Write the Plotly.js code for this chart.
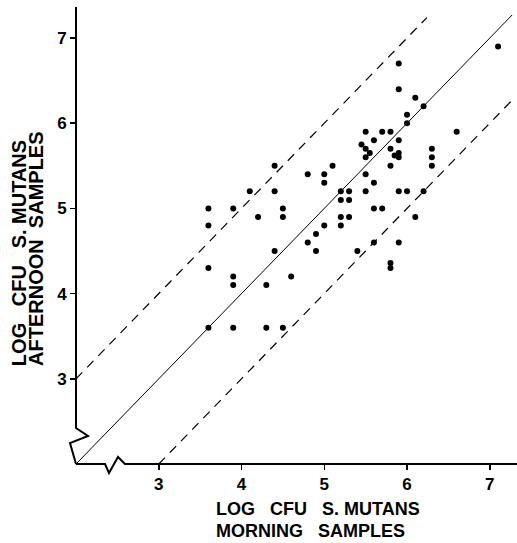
<!DOCTYPE html>
<html>
<head>
<meta charset="utf-8">
<script src="https://cdn.plot.ly/plotly-3.0.1.min.js"></script>
<style>html,body{margin:0;padding:0;background:#fff;}</style>
</head>
<body>
<div id="chart" style="width:517px;height:543px;"></div>
<script>
// Log CFU S. mutans: morning samples (x) vs afternoon samples (y)
const morning = [3.6,3.9,4.1,4.2,3.6,3.6,3.9,3.9,3.6,3.9,
  4.4,4.4,4.5,4.5,4.4,4.3,4.3,4.5,4.6,
  5.9,5.9,6.1,6.2,6.0,6.0,7.1,6.6,5.5,5.7,5.8,5.6,5.9,5.45,5.5,5.8,5.55,5.5,5.85,5.9,5.9,
  6.3,6.3,6.3,5.8,5.1,4.8,5.0,5.0,5.5,5.6,5.2,5.3,5.5,5.9,6.0,6.2,5.2,5.3,5.2,5.3,5.6,5.7,6.1,
  5.0,5.2,4.9,4.8,4.9,5.4,5.6,5.9,5.8,5.8];
const afternoon = [5.0,5.0,5.2,4.9,4.8,4.3,4.2,4.1,3.6,3.6,
  5.5,5.2,5.0,4.9,4.5,4.1,3.6,3.6,4.2,
  6.7,6.4,6.3,6.2,6.1,6.0,6.9,5.9,5.9,5.9,5.9,5.8,5.8,5.75,5.7,5.7,5.65,5.6,5.62,5.65,5.6,
  5.7,5.6,5.5,5.5,5.5,5.4,5.4,5.3,5.4,5.3,5.2,5.2,5.2,5.2,5.2,5.2,5.1,5.1,4.9,4.9,5.0,5.0,4.9,
  4.8,4.8,4.7,4.6,4.5,4.5,4.6,4.6,4.36,4.3];

// Reference lines y = x + offset
const identityX = [2, 7.27];   const identityOffset = 0;
const upperX = [2, 6.24];      const upperOffset = 1;
const lowerX = [3, 7.31];      const lowerOffset = -1;

const tickVals = [3, 4, 5, 6, 7];
const tickLabels = ["3", "4", "5", "6", "7"];
const xTitle = ["LOG\u00a0\u00a0\u00a0CFU\u00a0\u00a0\u00a0S.\u00a0MUTANS", "MORNING\u00a0\u00a0\u00a0SAMPLES"];
const yTitle = ["LOG\u00a0\u00a0\u00a0CFU\u00a0\u00a0\u00a0S.\u00a0MUTANS", "AFTERNOON\u00a0\u00a0SAMPLES"];

const F = "Liberation Sans, Arial, Helvetica, sans-serif";
const addOff = (xs, o) => xs.map(v => v + o);

const traces = [
  {x: identityX, y: addOff(identityX, identityOffset), mode: "lines", type: "scatter",
   line: {color: "#000", width: 1}, hoverinfo: "skip", cliponaxis: false},
  {x: upperX, y: addOff(upperX, upperOffset), mode: "lines", type: "scatter",
   line: {color: "#000", width: 1.2, dash: "9px,7px"}, hoverinfo: "skip", cliponaxis: false},
  {x: lowerX, y: addOff(lowerX, lowerOffset), mode: "lines", type: "scatter",
   line: {color: "#000", width: 1.2, dash: "9px,7px"}, hoverinfo: "skip", cliponaxis: false},
  {x: morning, y: afternoon, mode: "markers", type: "scatter",
   marker: {color: "#000", size: 6}, cliponaxis: false}
];

// axis lines with break marks (paper coordinates)
const yAxisPath = "M 0 1 L 0 0.0788 L 0.0272 0.0613 L -0.0136 0.046 L 0 0";
const xAxisPath = "M 0 0 L 0.0658 0 L 0.0748 -0.0197 L 0.0952 0.0153 L 0.1111 0 L 1 0";

const layout = {
  width: 517, height: 543,
  margin: {l: 76, r: 0, t: 7, b: 79, pad: 0},
  paper_bgcolor: "#fff", plot_bgcolor: "#fff",
  showlegend: false,
  xaxis: {range: [2, 7.329], showline: false, showgrid: false, zeroline: false,
    tickmode: "array", tickvals: tickVals, ticktext: tickLabels,
    ticks: "outside", ticklen: 5, tickwidth: 1.5, tickcolor: "#000",
    tickfont: {family: F, size: 17, color: "#000", weight: "bold"}},
  yaxis: {range: [2, 7.364], showline: false, showgrid: false, zeroline: false,
    tickmode: "array", tickvals: tickVals, ticktext: tickLabels,
    ticks: "outside", ticklen: 5, tickwidth: 1.5, tickcolor: "#000",
    tickfont: {family: F, size: 17, color: "#000", weight: "bold"}},
  shapes: [
    {type: "path", xref: "paper", yref: "paper", path: yAxisPath, line: {color: "#000", width: 2}},
    {type: "path", xref: "paper", yref: "paper", path: xAxisPath, line: {color: "#000", width: 2}}
  ],
  annotations: [
    {text: xTitle[0], xref: "paper", yref: "paper", x: 0.315, y: -0.0985, xanchor: "left", yanchor: "middle",
     showarrow: false, borderpad: 0, font: {family: F, size: 18, color: "#000", weight: "bold"}},
    {text: xTitle[1], xref: "paper", yref: "paper", x: 0.315, y: -0.1466, xanchor: "left", yanchor: "middle",
     showarrow: false, borderpad: 0, font: {family: F, size: 18, color: "#000", weight: "bold"}},
    {text: yTitle[0], xref: "paper", yref: "paper", x: -0.129, y: 0.21, xanchor: "center", yanchor: "bottom",
     textangle: -90, showarrow: false, font: {family: F, size: 20, color: "#000", weight: "bold"}},
    {text: yTitle[1], xref: "paper", yref: "paper", x: -0.091, y: 0.21, xanchor: "center", yanchor: "bottom",
     textangle: -90, showarrow: false, font: {family: F, size: 20, color: "#000", weight: "bold"}}
  ]
};

Plotly.newPlot("chart", traces, layout, {displayModeBar: false, staticPlot: true});
</script>
</body>
</html>
